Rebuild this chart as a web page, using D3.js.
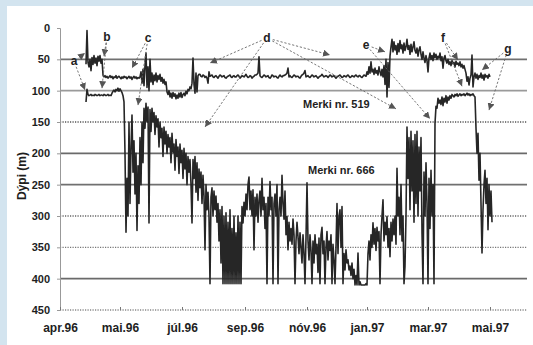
<!DOCTYPE html>
<html><head><meta charset="utf-8">
<script src="https://cdn.jsdelivr.net/npm/d3@7"></script>
<style>body{margin:0;background:#fff} svg{display:block}</style>
</head><body><svg id="c" width="533" height="345"></svg>
<script>
// ---------- data ----------
const tickDays = [0, 60, 122, 185, 247, 307, 368, 430];
const tickLabels = ["apr.96", "mai.96", "júl.96", "sep.96", "nóv.96", "jan.97", "mar.97", "mai.97"];
const depthTicks = [0, 50, 100, 150, 200, 250, 300, 350, 400, 450];

// Merki nr. 519 — daily depth (m) starting at day 26
const start519 = 26;
const series519 = [
 58, 4, 55, 62, 50, 68, 47, 58, 44, 56,
 48, 60, 45, 53, 44, 56, 50, 75, 78, 76,
 79, 77, 80, 78, 76, 79, 77, 81, 78, 79,
 76, 80, 78, 77, 79, 81, 78, 80, 77, 79,
 78, 81, 79, 77, 80, 78, 82, 79, 77, 80,
 78, 81, 79, 80, 78, 70, 88, 66, 92, 60,
 40, 95, 62, 100, 50, 86, 72, 90, 75, 84,
 72, 86, 76, 82, 74, 85, 79, 88, 82, 90,
 86, 102, 106, 100, 110, 104, 112, 103, 109, 105,
 113, 107, 112, 104, 110, 103, 111, 106, 104, 108,
 101, 105, 98, 100, 94, 97, 88, 48, 90, 104,
 72, 102, 76, 74, 74, 77, 78, 75, 76, 79,
 77, 80, 88, 70, 77, 76, 75, 78, 79, 77,
 76, 78, 80, 77, 75, 76, 78, 77, 76, 79,
 80, 78, 77, 76, 75, 78, 79, 77, 76, 78,
 78, 76, 75, 77, 80, 78, 76, 77, 78, 76,
 74, 77, 79, 78, 76, 77, 80, 78, 77, 75,
 75, 74, 72, 46, 76, 78, 79, 77, 75, 76,
 78, 77, 76, 79, 80, 78, 75, 76, 78, 77,
 77, 79, 80, 77, 75, 77, 78, 76, 76, 75,
 74, 72, 64, 78, 76, 78, 79, 77, 75, 76,
 78, 77, 77, 79, 80, 77, 75, 74, 72, 68,
 78, 77, 76, 78, 79, 77, 75, 76, 78, 77,
 76, 78, 80, 78, 77, 76, 74, 76, 78, 77,
 76, 77, 79, 77, 75, 76, 78, 77, 76, 78,
 80, 78, 77, 76, 75, 77, 79, 78, 76, 77,
 78, 76, 75, 77, 79, 78, 76, 77, 78, 76,
 75, 77, 78, 76, 76, 78, 79, 77, 75, 76,
 77, 70, 74, 62, 72, 54, 70, 66, 74, 64,
 72, 68, 75, 62, 70, 76, 66, 78, 60, 90,
 50, 110, 55, 95, 45, 30, 18, 38, 22, 35,
 28, 42, 25, 38, 20, 33, 27, 40, 24, 36,
 30, 18, 34, 28, 42, 26, 38, 30, 22, 36,
 40, 32, 45, 35, 30, 42, 50, 38, 48, 55,
 44, 52, 70, 48, 40, 50, 44, 52, 40, 47,
 42, 50, 45, 48, 40, 52, 46, 64, 48, 44,
 52, 56, 50, 58, 54, 60, 52, 57, 55, 62,
 53, 58, 56, 60, 54, 62, 58, 64, 60, 66,
 72, 85, 78, 91, 80, 75, 43, 94, 78, 72,
 80, 74, 82, 76, 79, 72, 80, 75, 83, 74,
 78, 76, 80, 74, 78
];

// Merki nr. 666 — daily depth (m) starting at day 26
const start666 = 26;
const series666 = [
 118, 98, 106, 108, 107, 106, 108, 107, 108, 106,
 107, 108, 107, 106, 108, 107, 107, 108, 106, 107,
 108, 107, 106, 108, 107, 108, 104, 101, 99, 102,
 98, 100, 96, 101, 97, 100, 103, 108, 118, 200,
 326, 240, 300, 150, 280, 190, 139, 230, 180, 265,
 200, 323, 220, 280, 175, 250, 150, 215, 128, 160,
 120, 150, 126, 311, 130, 165, 128, 150, 135, 170,
 140, 158, 145, 190, 150, 175, 160, 205, 158, 185,
 165, 200, 170, 190, 175, 215, 168, 198, 185, 227,
 178, 205, 190, 232, 185, 215, 195, 240, 192, 225,
 200, 250, 205, 230, 210, 250, 311, 210, 240, 205,
 262, 215, 275, 225, 255, 230, 280, 235, 268, 354,
 250, 290, 262, 300, 408, 270, 255, 300, 260, 290,
 268, 310, 280, 340, 290, 375, 285, 408, 300, 408,
 295, 408, 310, 408, 290, 408, 320, 408, 300, 408,
 327, 408, 300, 408, 310, 408, 285, 311, 278, 300,
 265, 290, 250, 238, 290, 260, 300, 258, 354, 270,
 300, 265, 310, 275, 260, 300, 240, 290, 270, 320,
 280, 408, 270, 300, 245, 290, 270, 408, 280, 265,
 300, 250, 408, 290, 270, 300, 235, 280, 305, 260,
 330, 301, 354, 310, 340, 320, 345, 305, 330, 408,
 340, 310, 333, 360, 327, 350, 375, 330, 360, 408,
 335, 247, 340, 370, 330, 355, 408, 340, 375, 330,
 360, 345, 390, 335, 408, 330, 318, 360, 340, 408,
 350, 325, 370, 340, 355, 330, 408, 345, 370, 408,
 350, 280, 360, 300, 290, 350, 285, 408, 360, 386,
 354, 375, 370, 386, 380, 395, 375, 400, 385, 410,
 395, 410, 359, 410, 405, 410, 410, 410, 410, 410,
 408, 410, 360, 340, 370, 330, 350, 311, 345, 320,
 355, 318, 340, 325, 408, 330, 300, 274, 340, 310,
 330, 301, 350, 320, 365, 310, 340, 305, 330, 300,
 345, 224, 300, 270, 330, 250, 340, 300, 408, 380,
 300, 158, 240, 175, 290, 165, 260, 180, 310, 170,
 280, 165, 300, 190, 260, 175, 327, 408, 230, 300,
 215, 280, 408, 240, 320, 227, 300, 250, 408, 152,
 125, 128, 112, 120, 115, 122, 110, 124, 112, 118,
 108, 120, 110, 115, 108, 112, 106, 108, 110, 106,
 108, 105, 109, 107, 105, 108, 106, 107, 105, 108,
 106, 104, 107, 105, 108, 106, 107, 105, 108, 110,
 160, 200, 168, 243, 200, 280, 359, 290, 250, 227,
 280, 240, 322, 250, 300, 260, 310
];

const seriesLabels = [
  { text: "Merki nr. 519", day: 243, depth: 122 },
  { text: "Merki nr. 666", day: 248, depth: 226 }
];

const annotations = [
  { label: "a", at: [14, 53],  to: [[25, 40], [25, 99]] },
  { label: "b", at: [47, 14],  to: [[44, 45], [42, 96]] },
  { label: "c", at: [88, 16],  to: [[72, 64], [78, 123]] },
  { label: "d", at: [207, 16], to: [[150, 56], [145, 158], [270, 43], [336, 129]] },
  { label: "e", at: [306, 27], to: [[325, 38], [370, 145]] },
  { label: "f", at: [383, 16], to: [[398, 51], [402, 93]] },
  { label: "g", at: [448, 34], to: [[422, 67], [429, 131]] }
];

// ---------- drawing ----------
const W = 533, H = 345;
const FONT = "'Liberation Sans', Arial, Helvetica, sans-serif";
const svg = d3.select("#c");

svg.append("rect").attr("width", W).attr("height", H).attr("fill", "#d3e4ef");
svg.append("rect").attr("x", 7).attr("y", 6).attr("width", W - 7).attr("height", H - 6).attr("fill", "#ffffff");

const x = d3.scaleLinear().domain([0, 467]).range([60, 527]);
const y = d3.scaleLinear().domain([0, 450]).range([28, 310]);

// grid lines
const dotted = new Set([150, 300, 350, 450]);
const gridColor = { 50: "#707070", 100: "#9a9a9a", 150: "#555", 200: "#6a6a6a", 250: "#707070", 300: "#666", 350: "#777", 400: "#6a6a6a", 450: "#888" };
svg.append("g").selectAll("line")
  .data(depthTicks.filter(d => d > 0))
  .join("line")
  .attr("x1", x(0)).attr("x2", x(467))
  .attr("y1", d => y(d)).attr("y2", d => y(d))
  .attr("stroke", d => gridColor[d])
  .attr("stroke-width", d => dotted.has(d) ? 1.3 : 1.6)
  .attr("stroke-dasharray", d => dotted.has(d) ? "1.2,1.3" : null);

// y axis
const yAxis = svg.append("g").attr("transform", `translate(${x(0)},0)`)
  .call(d3.axisLeft(y).tickValues(depthTicks).tickSize(3).tickPadding(7));
yAxis.select(".domain").attr("stroke", "#999");
yAxis.selectAll(".tick line").attr("stroke", "#999");
yAxis.selectAll("text").attr("font-family", FONT).attr("font-weight", "bold")
  .attr("font-size", 11).attr("fill", "#1e1e1e");

// x axis
const xAxis = svg.append("g").attr("transform", `translate(0,${y(450)})`)
  .call(d3.axisBottom(x).tickValues(tickDays).tickFormat((d, i) => tickLabels[i])
    .tickSizeInner(-3).tickSizeOuter(0).tickPadding(13.5));
xAxis.select(".domain").remove();
xAxis.selectAll(".tick line").attr("stroke", "#777");
xAxis.selectAll("text").attr("font-family", FONT).attr("font-weight", "bold")
  .attr("font-size", 12).attr("fill", "#1e1e1e");

// y title
svg.append("text")
  .attr("transform", "translate(26,176) rotate(-90)")
  .attr("text-anchor", "middle")
  .attr("font-family", FONT).attr("font-weight", "bold").attr("font-size", 12)
  .attr("fill", "#1e1e1e")
  .text("Dýpi (m)");

// series lines
function drawSeries(values, start) {
  const line = d3.line().x((d, i) => x(start + i)).y(d => y(d));
  svg.append("path").datum(values)
    .attr("d", line)
    .attr("fill", "none")
    .attr("stroke", "#262626")
    .attr("stroke-width", 1.6)
    .attr("stroke-linejoin", "round");
}
drawSeries(series666, start666);
drawSeries(series519, start519);

// arrow marker
svg.append("defs").append("marker")
  .attr("id", "ah").attr("viewBox", "0 0 10 10")
  .attr("refX", 10).attr("refY", 5)
  .attr("markerWidth", 7).attr("markerHeight", 7)
  .attr("markerUnits", "userSpaceOnUse")
  .attr("orient", "auto")
  .append("path").attr("d", "M0,0 L10,5 L0,10 Z").attr("fill", "#555");

// annotations
annotations.forEach(a => {
  const lx = x(a.at[0]), ly = y(a.at[1]);
  a.to.forEach(t => {
    const tx = x(t[0]), ty = y(t[1]);
    const dx = tx - lx, dy = ty - ly, len = Math.hypot(dx, dy);
    svg.append("line")
      .attr("x1", lx + dx / len * 6).attr("y1", ly + dy / len * 6)
      .attr("x2", tx).attr("y2", ty)
      .attr("stroke", "#666").attr("stroke-width", 0.9)
      .attr("stroke-dasharray", "2.2,1.8")
      .attr("marker-end", "url(#ah)");
  });
  svg.append("text")
    .attr("x", lx).attr("y", ly)
    .attr("text-anchor", "middle").attr("dominant-baseline", "central")
    .attr("font-family", FONT).attr("font-weight", "bold").attr("font-size", 12)
    .attr("fill", "#222")
    .text(a.label);
});

// series labels
svg.selectAll(".slab").data(seriesLabels).join("text")
  .attr("class", "slab")
  .attr("x", d => x(d.day)).attr("y", d => y(d.depth))
  .attr("dominant-baseline", "central")
  .attr("font-family", FONT).attr("font-weight", "bold").attr("font-size", 11)
  .attr("fill", "#1e1e1e")
  .text(d => d.text);
</script>
</body></html>
